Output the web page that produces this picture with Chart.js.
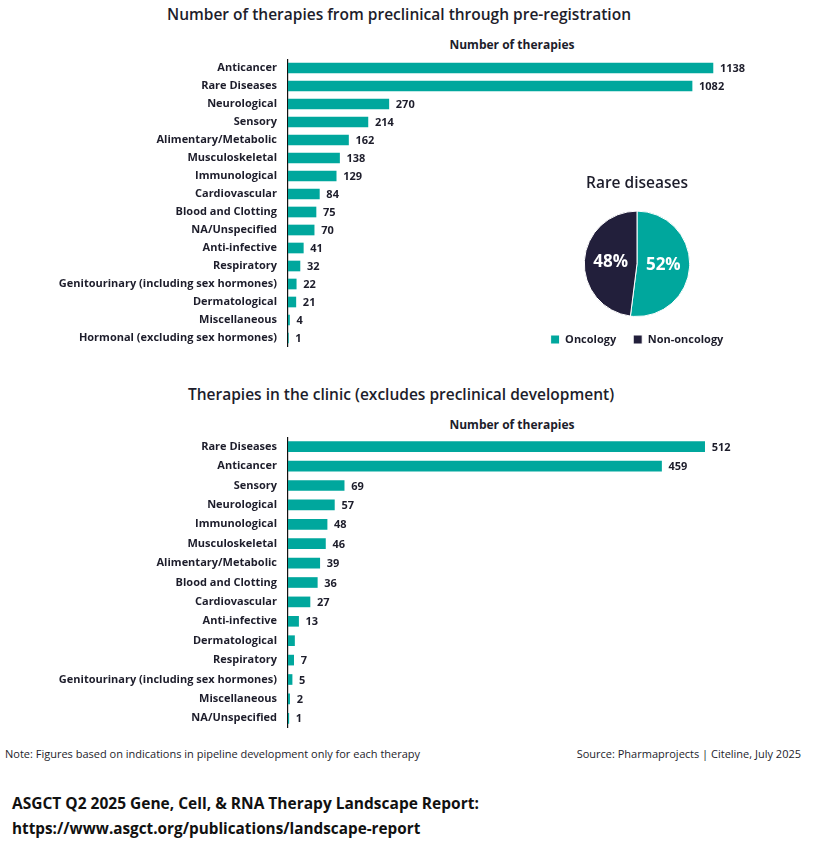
<!DOCTYPE html>
<html>
<head>
    <title>Gene, Cell, & RNA Therapy Landscape</title>
    <script src="https://cdn.jsdelivr.net/npm/chart.js"></script>
    <style>
        body { margin: 0; background: #fff; font-family: "Open Sans", sans-serif; color: #1d1d2b; }
        #page { position: relative; width: 823px; height: 852px; }
        .txt { position: absolute; white-space: nowrap; }
        canvas { position: absolute; }
    </style>
</head>
<body>
<div id="page">
    <div class="txt" style="left:0;width:798px;top:3px;text-align:center;font-size:15.5px;font-weight:600;">Number of therapies from preclinical through pre-registration</div>
    <div class="txt" style="left:412px;width:200px;top:36px;text-align:center;font-size:12px;font-weight:700;">Number of therapies</div>
    <canvas id="pipelineChart" width="760" height="288" style="left:0;top:59px;"></canvas>
    <canvas id="rareChart" width="240" height="185" style="left:517px;top:170px;"></canvas>

    <div class="txt" style="left:0;width:802px;top:383px;text-align:center;font-size:15.5px;font-weight:600;">Therapies in the clinic (excludes preclinical development)</div>
    <div class="txt" style="left:412px;width:200px;top:416px;text-align:center;font-size:12px;font-weight:700;">Number of therapies</div>
    <canvas id="clinicChart" width="760" height="291" style="left:0;top:437px;"></canvas>

    <div class="txt" style="left:5px;top:746px;font-size:11px;">Note: Figures based on indications in pipeline development only for each therapy</div>
    <div class="txt" style="right:22px;top:746px;font-size:11px;">Source: Pharmaprojects | Citeline, July 2025</div>
    <div class="txt" style="left:12px;top:792px;font-size:15.5px;font-weight:700;color:#111;">ASGCT Q2 2025 Gene, Cell, &amp; RNA Therapy Landscape Report:</div>
    <div class="txt" style="left:12px;top:818px;font-size:15.3px;font-weight:700;color:#111;">https://www.asgct.org/publications/landscape-report</div>
</div>
<script>
    const teal = '#00a79d';
    const navy = '#221f3b';
    const ink = '#1d1d2b';

    const pipelineCategories = ['Anticancer', 'Rare Diseases', 'Neurological', 'Sensory', 'Alimentary/Metabolic',
        'Musculoskeletal', 'Immunological', 'Cardiovascular', 'Blood and Clotting', 'NA/Unspecified',
        'Anti-infective', 'Respiratory', 'Genitourinary (including sex hormones)', 'Dermatological',
        'Miscellaneous', 'Hormonal (excluding sex hormones)'];
    const pipelineValues = [1138, 1082, 270, 214, 162, 138, 129, 84, 75, 70, 41, 32, 22, 21, 4, 1];

    const clinicCategories = ['Rare Diseases', 'Anticancer', 'Sensory', 'Neurological', 'Immunological',
        'Musculoskeletal', 'Alimentary/Metabolic', 'Blood and Clotting', 'Cardiovascular', 'Anti-infective',
        'Dermatological', 'Respiratory', 'Genitourinary (including sex hormones)', 'Miscellaneous', 'NA/Unspecified'];
    const clinicValues = [512, 459, 69, 57, 48, 46, 39, 36, 27, 13, 8, 7, 5, 2, 1];
    // the dermatological bar has no number printed on it in the source
    const clinicValueLabels = ['512', '459', '69', '57', '48', '46', '39', '36', '27', '13', '', '7', '5', '2', '1'];

    const rareLabels = ['Oncology', 'Non-oncology'];
    const rareValues = [52, 48];

    Chart.defaults.font.family = '"Open Sans", sans-serif';
    Chart.defaults.color = ink;

    // writes the number just past the end of each bar
    const barValues = {
        id: 'barValues',
        afterDatasetsDraw(chart, args, opts) {
            const ctx = chart.ctx;
            const meta = chart.getDatasetMeta(0);
            ctx.save();
            ctx.font = 'bold 11px "Open Sans", sans-serif';
            ctx.fillStyle = ink;
            ctx.textBaseline = 'middle';
            meta.data.forEach((bar, i) => {
                const txt = opts.labels ? opts.labels[i] : String(chart.data.datasets[0].data[i]);
                if (txt) ctx.fillText(txt, bar.x + 7, bar.y + 1);
            });
            ctx.restore();
        }
    };

    function barChart(id, categories, values, xMax, labels) {
        return new Chart(document.getElementById(id), {
            type: 'bar',
            data: {
                labels: categories,
                datasets: [{ data: values, backgroundColor: teal, barThickness: 10 }]
            },
            options: {
                indexAxis: 'y',
                responsive: false,
                animation: false,
                layout: { padding: 0 },
                plugins: { legend: { display: false }, tooltip: { enabled: false }, barValues: { labels: labels } },
                scales: {
                    x: { display: false, min: 0, max: xMax },
                    y: {
                        grid: { display: false, drawTicks: false },
                        border: { color: '#111', width: 1.2 },
                        ticks: { font: { size: 11, weight: 'bold' }, color: ink, padding: 11, autoSkip: false },
                        afterFit(scale) {
                            scale.width = 288;
                            // tick padding would otherwise shrink the plot top and bottom
                            scale.paddingTop = 0;
                            scale.paddingBottom = 0;
                        }
                    }
                }
            },
            plugins: [barValues]
        });
    }

    barChart('pipelineChart', pipelineCategories, pipelineValues, 1264);
    barChart('clinicChart', clinicCategories, clinicValues, 580, clinicValueLabels);

    // percentage text inside the slices
    const sliceValues = {
        id: 'sliceValues',
        afterDatasetsDraw(chart) {
            const ctx = chart.ctx;
            const total = rareValues.reduce((a, b) => a + b, 0);
            ctx.save();
            ctx.font = 'bold 17px "Open Sans", sans-serif';
            ctx.fillStyle = '#fff';
            ctx.textAlign = 'center';
            ctx.textBaseline = 'middle';
            chart.getDatasetMeta(0).data.forEach((arc, i) => {
                const mid = (arc.startAngle + arc.endAngle) / 2;
                const r = arc.outerRadius * 0.5;
                ctx.fillText(Math.round(rareValues[i] / total * 100) + '%', arc.x + Math.cos(mid) * r, arc.y + Math.sin(mid) * r);
            });
            ctx.restore();
        }
    };

    new Chart(document.getElementById('rareChart'), {
        type: 'pie',
        data: {
            labels: rareLabels,
            datasets: [{ data: rareValues, backgroundColor: [teal, navy], borderColor: '#fff', borderWidth: 1 }]
        },
        options: {
            responsive: false,
            animation: false,
            layout: { padding: 0 },
            plugins: {
                tooltip: { enabled: false },
                title: {
                    display: true,
                    text: 'Rare diseases',
                    color: ink,
                    font: { size: 15.5, weight: '600' },
                    padding: { top: 4, bottom: 18 }
                },
                legend: {
                    position: 'bottom',
                    labels: { boxWidth: 9, boxHeight: 9, padding: 17, color: ink, font: { size: 11, weight: 'bold' } }
                }
            }
        },
        plugins: [sliceValues]
    });
</script>
</body>
</html>
